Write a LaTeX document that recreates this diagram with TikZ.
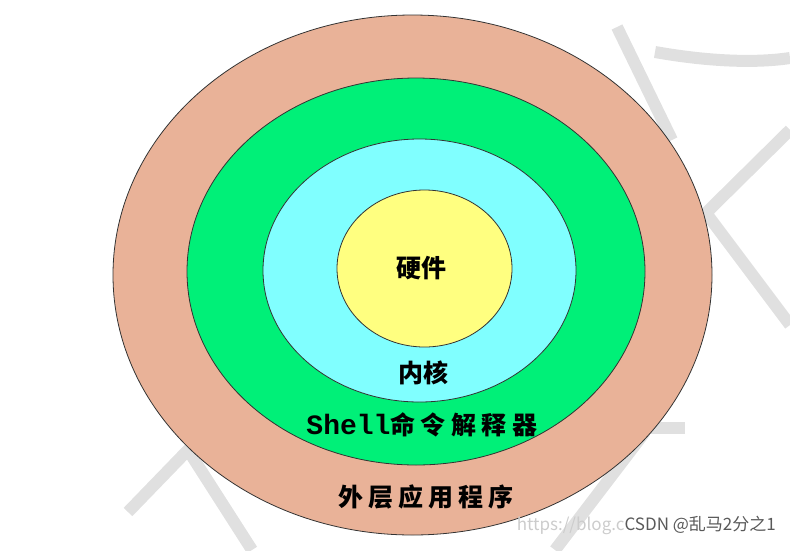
\documentclass[tikz,border=0pt]{standalone}
\usepackage{fontspec}
\setmainfont{Liberation Sans}
\newfontfamily\cjk{Noto Sans CJK SC}
\newfontfamily\shellfont{Liberation Mono}
\usepackage{tikz}
\usetikzlibrary{shapes.geometric, positioning}

\definecolor{appsalmon}{RGB}{233,178,152}
\definecolor{shellgreen}{RGB}{0,240,120}
\definecolor{kernelcyan}{RGB}{128,255,255}
\definecolor{hwyellow}{RGB}{255,255,128}
\definecolor{wmgray}{RGB}{224,224,224}

\begin{document}
\begin{tikzpicture}[x=1pt,y=-1pt]
    \useasboundingbox (0,0) rectangle (790,550);
    \tikzstyle{wmstroke} = [draw=wmgray, line width=12pt]
    \tikzstyle{layer} = [draw=black!80, line width=0.8pt, ellipse, inner sep=0pt]
    \tikzstyle{ringtext} = [font=\cjk\bfseries\fontsize{25}{25}\selectfont, inner sep=0pt]
    % watermark strokes behind the rings
    \path[wmstroke] (617,27) -- (672,140);
    \path[wmstroke] (655,52) .. controls (700,60) and (750,64) .. (790,58);
    \path[wmstroke] (790,130) -- (706,213) -- (790,325);
    \path[wmstroke] (128,512) -- (188,450) -- (252,550);
    \path[wmstroke] (555,550) -- (645,432);
    \path[wmstroke] (630,428) -- (685,428);
    % the four layers, outside in
    \node[layer, fill=appsalmon,
        minimum width=599pt,
        minimum height=520pt] at (412.5,275) (app) {};
    \node[layer, fill=shellgreen,
        minimum width=458pt,
        minimum height=387pt] at (416,271.5) (shell) {};
    \node[layer, fill=kernelcyan,
        minimum width=313pt,
        minimum height=263pt] at (419.5,270.5) (kernel) {};
    \node[layer, fill=hwyellow,
        minimum width=175pt,
        minimum height=157pt] at (424.5,268.5) (hw) {};
    % labels
    \node[ringtext] at (421,268) (hwtext) {硬件};
    \node[ringtext] at (423,373) (kerneltext) {内核};
    \node[ringtext] at (422,425) (shelltext) {{\shellfont\bfseries\fontsize{28}{28}\selectfont Shell}{\addfontfeature{LetterSpace=22}命令解释器}};
    \node[ringtext] at (426,497) (apptext) {{\addfontfeature{LetterSpace=20}外层应用程序}};
    \node[anchor=east, inner sep=0pt, font=\cjk\fontsize{17}{17}\selectfont] at (776,525) (wmtext)
        {\textcolor{black!20}{https://blog.c}\textcolor{black!65}{CSDN @乱马2分之1}};
\end{tikzpicture}
\end{document}
